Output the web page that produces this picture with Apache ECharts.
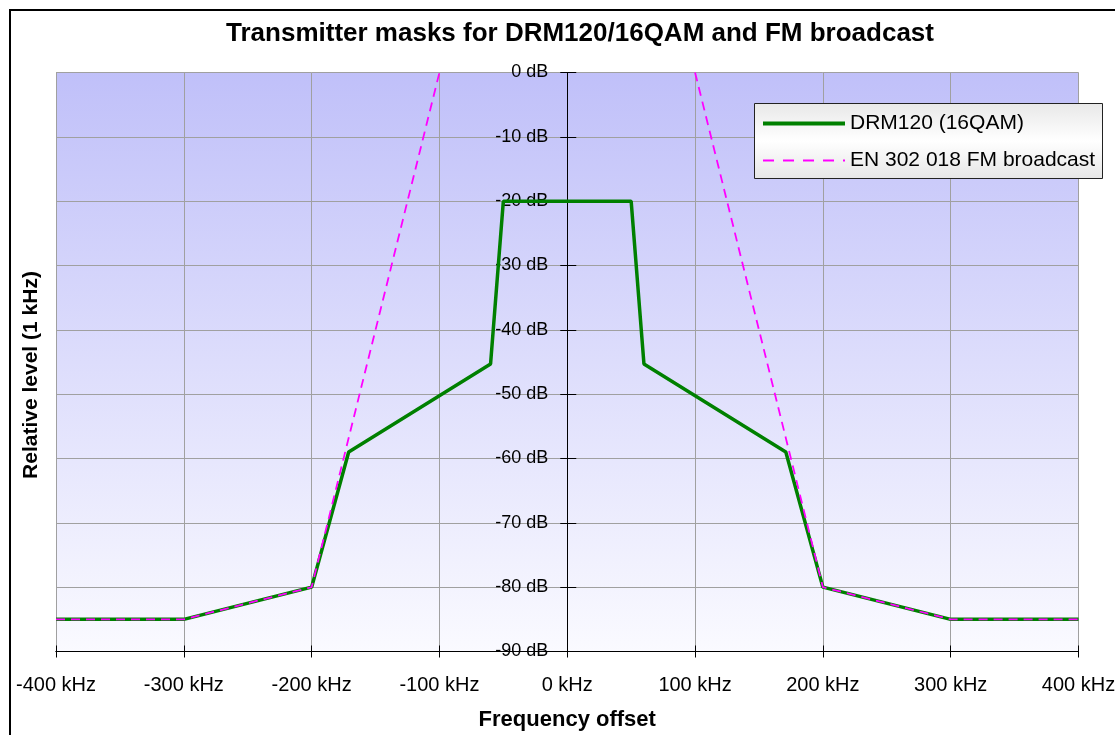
<!DOCTYPE html>
<html>
<head>
<meta charset="utf-8">
<script src="https://cdn.jsdelivr.net/npm/echarts@6/dist/echarts.min.js"></script>
<style>
html,body{margin:0;padding:0;background:#fff;}
#chart{width:1115px;height:735px;}
</style>
</head>
<body>
<div id="chart"></div>
<script>
// Data
const drmFreq = [-400, -300, -200, -171, -60, -50, 50, 60, 171, 200, 300, 400];
const drmLevel = [-85, -85, -80, -59, -45.3, -20, -20, -45.3, -59, -80, -85, -85];
const fmFreq = [-400, -300, -200, -100, null, 100, 200, 300, 400];
const fmLevel = [-85, -85, -80, 0, null, 0, -80, -85, -85];
const xTicks = [-400, -300, -200, -100, 0, 100, 200, 300, 400];
const yTicks = [0, -10, -20, -30, -40, -50, -60, -70, -80, -90];
const seriesNames = ['DRM120 (16QAM)', 'EN 302 018 FM broadcast'];
const titleText = 'Transmitter masks for DRM120/16QAM and FM broadcast';
const xName = 'Frequency offset';
const yName = 'Relative level (1 kHz)';

const FONT = '"Liberation Sans", Arial, sans-serif';
const chart = echarts.init(document.getElementById('chart'));

function pairs(xs, ys) {
  return xs.map((x, i) => (x === null ? [null, null] : [x, ys[i]]));
}

const W = 1115, H = 735;
const G = { left: 56, right: 36.5, top: 72.5, bottom: 83.5 };
const xMin = xTicks[0], xMax = xTicks[xTicks.length - 1];
const yMin = yTicks[yTicks.length - 1], yMax = yTicks[0];
// pixel of x = 0 inside the main grid (where the vertical axis stands)
const zeroX = G.left + (W - G.left - G.right) * (0 - xMin) / (xMax - xMin);

const baseX = {
  type: 'value', min: xMin, max: xMax, interval: 100,
  axisLine: { onZero: false, lineStyle: { color: '#000', width: 1 } },
  splitLine: { show: true, lineStyle: { color: '#a0a0a0', width: 1 } },
};

chart.setOption({
  animation: false,
  backgroundColor: '#fff',
  title: {
    text: titleText,
    left: 575, top: 16, textAlign: 'center',
    textStyle: { fontFamily: FONT, fontWeight: 'bold', fontSize: 26, color: '#000' }
  },
  graphic: [
    { type: 'rect', shape: { x: 10, y: 10, width: 1120, height: 740 },
      style: { fill: 'none', stroke: '#000', lineWidth: 2 }, z: 100 },
    { type: 'rect', shape: { x: 754.5, y: 103.5, width: 348, height: 75 },
      style: {
        fill: new echarts.graphic.LinearGradient(0, 0, 0, 1, [
          { offset: 0, color: '#e8e8e8' }, { offset: 0.5, color: '#ffffff' }, { offset: 1, color: '#e6e6e6' }
        ]),
        stroke: '#222', lineWidth: 1
      }, z: 50 },
    { type: 'text', x: 31, y: 375, rotation: Math.PI / 2,
      style: { text: yName, fontFamily: FONT, fontWeight: 'bold', fontSize: 21, fill: '#000',
        align: 'center', verticalAlign: 'middle' },
      z: 60 }
  ],
  legend: {
    orient: 'vertical', left: 761, top: 113, padding: 0,
    itemWidth: 82, itemHeight: 14, itemGap: 16,
    itemStyle: { opacity: 0 },
    textStyle: { fontFamily: FONT, fontSize: 21, color: '#000' },
    z: 60,
    data: [
      { name: seriesNames[0], lineStyle: { width: 4, color: '#008000' } },
      { name: seriesNames[1], lineStyle: { width: 2, color: '#ff00ff', type: [11, 9] } }
    ]
  },
  grid: [
    {
      left: G.left, right: G.right, top: G.top, bottom: G.bottom,
      outerBoundsMode: 'none', containLabel: false,
      show: true, borderWidth: 0,
      backgroundColor: new echarts.graphic.LinearGradient(0, 0, 0, 1, [
        { offset: 0, color: '#c0c0f9' }, { offset: 1, color: '#fafaff' }
      ])
    },
    {
      left: zeroX, right: G.right, top: G.top, bottom: G.bottom,
      outerBoundsMode: 'none', containLabel: false, show: false
    }
  ],
  xAxis: [
    Object.assign({}, baseX, {
      gridIndex: 0,
      name: xName, nameLocation: 'middle', nameGap: 57,
      nameTextStyle: { fontFamily: FONT, fontWeight: 'bold', fontSize: 22, color: '#000' },
      axisTick: { show: true, inside: false, length: 6, lineStyle: { color: '#000' } },
      axisLabel: { margin: 24, fontFamily: FONT, fontSize: 20, color: '#000',
        formatter: v => v + ' kHz' }
    }),
    Object.assign({}, baseX, {
      gridIndex: 0, position: 'bottom', splitLine: { show: false },
      axisTick: { show: true, inside: true, length: 6, lineStyle: { color: '#000' } },
      axisLabel: { show: false }
    }),
    { gridIndex: 1, type: 'value', min: 0, max: xMax, show: false }
  ],
  yAxis: [
    {
      gridIndex: 0, type: 'value', min: yMin, max: yMax, interval: 10,
      axisLine: { show: false }, axisTick: { show: false }, axisLabel: { show: false },
      splitLine: { show: true, lineStyle: { color: '#a0a0a0', width: 1 } }
    },
    {
      gridIndex: 1, type: 'value', min: yMin, max: yMax, interval: 10, position: 'left',
      axisLine: { show: true, onZero: false, lineStyle: { color: '#000', width: 1 } },
      splitLine: { show: false },
      axisTick: { show: true, inside: false, length: 7, lineStyle: { color: '#000' } },
      axisLabel: { margin: 19, fontFamily: FONT, fontSize: 18, color: '#000',
        formatter: v => v + ' dB' }
    },
    {
      gridIndex: 1, type: 'value', min: yMin, max: yMax, interval: 10, position: 'left',
      axisLine: { show: false, onZero: false },
      splitLine: { show: false },
      axisTick: { show: true, inside: true, length: 9, lineStyle: { color: '#000' } },
      axisLabel: { show: false }
    }
  ],
  series: [
    {
      name: seriesNames[0], type: 'line', data: pairs(drmFreq, drmLevel),
      xAxisIndex: 0, yAxisIndex: 0,
      symbol: 'none', z: 3,
      lineStyle: { color: '#008000', width: 3.5 },
      itemStyle: { color: '#008000' }
    },
    {
      name: seriesNames[1], type: 'line', data: pairs(fmFreq, fmLevel),
      xAxisIndex: 0, yAxisIndex: 0,
      symbol: 'none', connectNulls: false, z: 4,
      lineStyle: { color: '#ff00ff', width: 1.8, type: [9, 6] },
      itemStyle: { color: '#ff00ff' }
    }
  ]
});
</script>
</body>
</html>
